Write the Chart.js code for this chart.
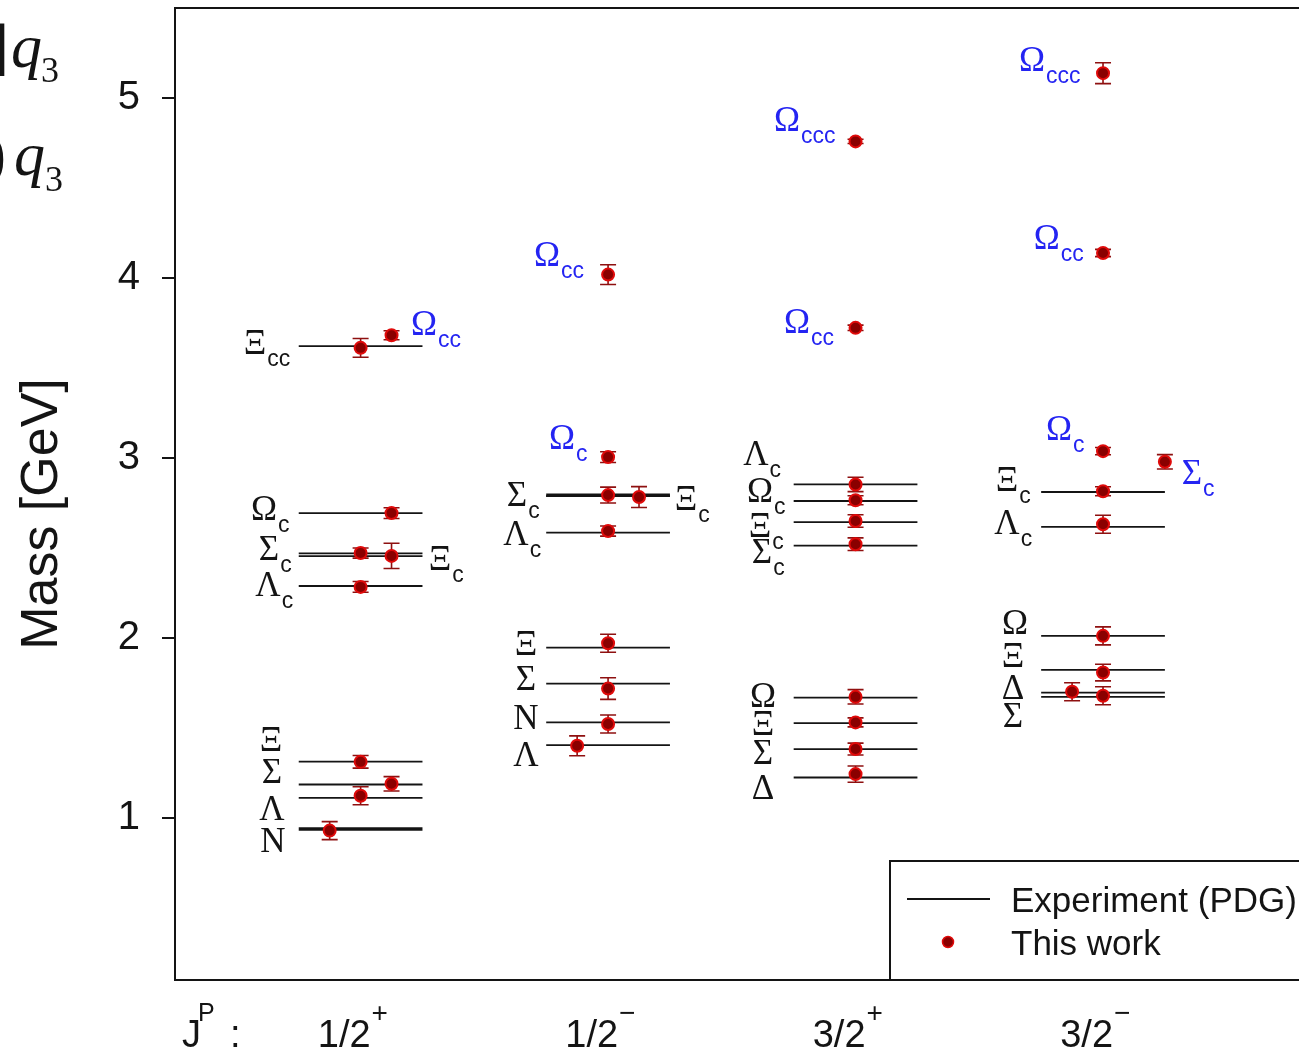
<!DOCTYPE html>
<html>
<head>
<meta charset="utf-8">
<script src="https://cdn.jsdelivr.net/npm/chart.js@4.4.0/dist/chart.umd.min.js"></script>
<style>
  html, body { margin:0; padding:0; background:#fff; overflow:hidden; }
  #wrap { position:relative; width:1299px; height:1053px; overflow:hidden; }
  canvas { display:block; }
</style>
</head>
<body>
<div id="wrap"><canvas id="massChart" width="1310" height="1053"></canvas></div>
<script>
// ---------- dados ----------
// colunas J^P
const jpPos    = [1, 2, 3, 4];
const jpFrac   = ['1/2', '1/2', '3/2', '3/2'];
const jpParity = ['+', '\u2212', '+', '\u2212'];
const yTicks   = [1, 2, 3, 4, 5];

// níveis experimentais (PDG): coluna, massa [GeV]
const pdgName = ['N','Λ','Σ','Ξ','Λc','Σc','Ξc','Ωc','Ξcc',
                 'Λ','N','Σ','Ξ','Λc','Ξc','Σc',
                 'Δ','Σ','Ξ','Ω','Σc','Ξc','Ωc','Λc',
                 'Σ','Δ','Ξ','Ω','Λc','Ξc'];
const pdgCol  = [1,1,1,1,1,1,1,1,1,
                 2,2,2,2,2,2,2,
                 3,3,3,3,3,3,3,3,
                 4,4,4,4,4,4];
const pdgMass = [0.939, 1.112, 1.186, 1.313, 2.289, 2.455, 2.470, 2.694, 3.622,
                 1.405, 1.531, 1.747, 1.947, 2.585, 2.789, 2.793,
                 1.225, 1.383, 1.527, 1.669, 2.513, 2.644, 2.761, 2.853,
                 1.673, 1.697, 1.823, 2.012, 2.617, 2.811];

// este trabalho: posição x (coluna), massa, erro
const workX    = [0.875, 1, 1, 1.125, 1, 1, 1.125, 1.125, 1, 1.125,
                  1.875, 2, 2, 2, 2, 2, 2.125, 2, 2,
                  3, 3, 3, 3, 3, 3, 3, 3, 3, 3,
                  3.875, 4, 4, 4, 4, 4, 4, 4.25, 4, 4];
const workMass = [0.930, 1.124, 1.312, 1.190, 2.284, 2.472, 2.456, 2.694, 3.612, 3.682,
                  1.401, 1.522, 1.719, 1.971, 2.594, 2.794, 2.783, 3.005, 4.019,
                  1.244, 1.383, 1.531, 1.673, 2.521, 2.650, 2.765, 2.853, 3.723, 4.759,
                  1.701, 1.679, 1.808, 2.012, 2.632, 2.815, 3.038, 2.979, 4.139, 5.138];
const workErr  = [0.050, 0.050, 0.035, 0.040, 0.030, 0.028, 0.070, 0.030, 0.052, 0.025,
                  0.055, 0.050, 0.060, 0.050, 0.028, 0.044, 0.058, 0.030, 0.055,
                  0.045, 0.033, 0.025, 0.040, 0.035, 0.035, 0.025, 0.040, 0.015, 0.012,
                  0.050, 0.050, 0.046, 0.050, 0.050, 0.025, 0.020, 0.040, 0.020, 0.058];

// rótulos: símbolo, subscrito, x, massa, só previsão (azul)
const labelSym  = ['Ξ','Ω','Ω','Σ','Λ','Ξ','Ξ','Σ','Λ','N',
                   'Ω','Ω','Σ','Λ','Ξ','Ξ','Σ','N','Λ',
                   'Ω','Ω','Λ','Ω','Ξ','Σ','Ω','Ξ','Σ','Δ',
                   'Ω','Ω','Ω','Σ','Ξ','Λ','Ω','Ξ','Δ','Σ'];
const labelSub  = ['cc','cc','c','c','c','c','','','','',
                   'cc','c','c','c','c','','','','',
                   'ccc','cc','c','c','c','c','','','','',
                   'ccc','cc','c','c','c','c','','','',''];
const labelX    = [0.573, 1.256, 0.610, 0.630, 0.626, 1.321, 0.638, 0.642, 0.642, 0.646,
                   1.753, 1.814, 1.632, 1.628, 2.315, 1.668, 1.668, 1.668, 1.668,
                   2.723, 2.763, 2.597, 2.614, 2.614, 2.622, 2.626, 2.626, 2.626, 2.626,
                   3.713, 3.773, 3.822, 4.359, 3.612, 3.612, 3.644, 3.636, 3.636, 3.636];
const labelY    = [3.643, 3.749, 2.722, 2.500, 2.300, 2.445, 1.440, 1.262, 1.057, 0.880,
                   4.131, 3.116, 2.800, 2.583, 2.777, 1.973, 1.779, 1.562, 1.357,
                   4.881, 3.760, 3.027, 2.822, 2.628, 2.483, 1.684, 1.529, 1.368, 1.174,
                   5.214, 4.226, 3.166, 2.922, 2.883, 2.644, 2.089, 1.906, 1.729, 1.573];
const labelPred = [0,1,0,0,0,0,0,0,0,0,
                   1,1,0,0,0,0,0,0,0,
                   1,1,0,0,0,0,0,0,0,0,
                   1,1,1,1,0,0,0,0,0,0];

// ---------- estilo ----------
const SANS  = '"Liberation Sans", Arial, sans-serif';
const SERIF = '"Liberation Serif", "Times New Roman", serif';
const INK   = '#141414';
const BLUE  = '#2424f2';
const DOT_FILL = '#8a0000', DOT_EDGE = '#e00a0a', BAR = '#8e1010';
const isHeavy = (i)=> (pdgCol[i]===1 && pdgName[i]==='N') || (pdgCol[i]===2 && pdgName[i]==='Σc');

const levelSets = pdgMass.map((m, i)=>({
  data: [{ x: pdgCol[i]-0.25, y: m }, { x: pdgCol[i]+0.25, y: m }],
  showLine: true,
  borderColor: INK,
  borderWidth: isHeavy(i) ? 3.5 : 1.8,
  pointRadius: 0,
  order: 2
}));

const workSet = {
  data: workX.map((x, i)=>({ x, y: workMass[i] })),
  pointRadius: 6,
  pointBackgroundColor: DOT_FILL,
  pointBorderColor: DOT_EDGE,
  pointBorderWidth: 2,
  order: 0
};
const WORK_IDX = levelSets.length;

// barras de erro, desenhadas antes dos pontos
const errorBars = {
  id: 'errorBars',
  beforeDatasetDraw(chart, args){
    if(args.index !== WORK_IDX) return;
    const { ctx, scales:{ x, y } } = chart;
    ctx.save();
    ctx.strokeStyle = BAR;
    ctx.lineWidth = 1.6;
    workX.forEach((v, i)=>{
      const px = x.getPixelForValue(v);
      const y1 = y.getPixelForValue(workMass[i] + workErr[i]);
      const y2 = y.getPixelForValue(workMass[i] - workErr[i]);
      ctx.beginPath();
      ctx.moveTo(px, y1); ctx.lineTo(px, y2);
      ctx.moveTo(px-8, y1); ctx.lineTo(px+8, y1);
      ctx.moveTo(px-8, y2); ctx.lineTo(px+8, y2);
      ctx.stroke();
    });
    ctx.restore();
  }
};

function drawLabel(ctx, sym, sub, px, py, color){
  ctx.fillStyle = color;
  ctx.font = `35px ${SERIF}`;
  ctx.textAlign = 'center';
  ctx.textBaseline = 'alphabetic';
  const w = ctx.measureText(sym).width;
  ctx.fillText(sym, px, py + 12);
  if(sub){
    ctx.font = `23px ${SANS}`;
    ctx.textAlign = 'left';
    ctx.fillText(sub, px + w/2 + 1, py + 24);
  }
}

// moldura, rótulos, eixo J^P, legenda e título
const decorations = {
  id: 'decorations',
  afterDraw(chart){
    const { ctx, chartArea:a, scales:{ x, y } } = chart;
    ctx.save();

    // moldura
    ctx.strokeStyle = INK; ctx.lineWidth = 2;
    ctx.strokeRect(a.left, a.top, a.right - a.left, a.bottom - a.top);

    // nomes dos estados
    labelSym.forEach((s, i)=>{
      drawLabel(ctx, s, labelSub[i], x.getPixelForValue(labelX[i]), y.getPixelForValue(labelY[i]),
                labelPred[i] ? BLUE : INK);
    });

    // eixo J^P
    const base = 1047;
    ctx.fillStyle = INK;
    ctx.textBaseline = 'alphabetic';
    ctx.font = `38px ${SANS}`; ctx.textAlign = 'left';
    ctx.fillText('J', 182, base);
    ctx.fillText(':', 230, base);
    ctx.font = `25px ${SANS}`;
    ctx.fillText('P', 198, 1021);
    jpPos.forEach((c, i)=>{
      const px = x.getPixelForValue(c);
      ctx.font = `38px ${SANS}`; ctx.textAlign = 'right';
      ctx.fillText(jpFrac[i], px + 10, base);
      ctx.font = `28px ${SANS}`; ctx.textAlign = 'left';
      ctx.fillText(jpParity[i], px + 11, 1022);
    });

    // título do eixo y
    ctx.save();
    ctx.translate(57, 514);
    ctx.rotate(-Math.PI/2);
    ctx.font = `52px ${SANS}`; ctx.textAlign = 'center';
    ctx.fillText('Mass [GeV]', 0, 0);
    ctx.restore();

    // legenda
    const lx = a.right - 411, ly = a.bottom - 119;
    ctx.fillStyle = '#fff';
    ctx.fillRect(lx, ly, a.right - lx, a.bottom - ly);
    ctx.strokeStyle = INK; ctx.lineWidth = 2;
    ctx.strokeRect(lx, ly, a.right - lx + 10, a.bottom - ly);
    ctx.lineWidth = 2;
    ctx.beginPath(); ctx.moveTo(lx + 17, ly + 38); ctx.lineTo(lx + 100, ly + 38); ctx.stroke();
    ctx.beginPath(); ctx.arc(lx + 58, ly + 81, 5.5, 0, Math.PI*2);
    ctx.fillStyle = DOT_FILL; ctx.fill();
    ctx.strokeStyle = DOT_EDGE; ctx.lineWidth = 1.5; ctx.stroke();
    ctx.fillStyle = INK;
    ctx.font = `35px ${SANS}`; ctx.textAlign = 'left';
    ctx.fillText('Experiment (PDG)', lx + 121, ly + 51);
    ctx.fillText('This work', lx + 121, ly + 94);

    // fragmentos de texto à esquerda (recorte da figura original)
    ctx.font = `64px ${SERIF}`; ctx.textAlign = 'right';
    ctx.fillText(']', 9, 67);
    ctx.fillText(')', 6, 175);
    ctx.font = `italic 62px ${SERIF}`; ctx.textAlign = 'left';
    ctx.fillText('q', 11, 67);
    ctx.fillText('q', 14, 175);
    ctx.font = `36px ${SERIF}`;
    ctx.fillText('3', 41, 82);
    ctx.fillText('3', 45, 191);

    ctx.restore();
  }
};

new Chart(document.getElementById('massChart'), {
  type: 'scatter',
  data: { datasets: [...levelSets, workSet] },
  options: {
    responsive: false,
    animation: false,
    layout: { padding: { top: 7, right: 9, left: 0, bottom: 0 } },
    plugins: { legend: { display:false }, tooltip: { enabled:false } },
    scales: {
      x: {
        type: 'linear', min: 0.25, max: 4.8,
        ticks: { display:false },
        grid: { display:false },
        border: { display:false },
        afterFit(s){ s.height = 73; s.paddingLeft = 0; s.paddingRight = 0; }
      },
      y: {
        type: 'linear', min: 0.1, max: 5.5,
        afterBuildTicks(s){ s.ticks = yTicks.map(v=>({ value:v })); },
        ticks: { color: INK, font: { family: SANS, size: 40 }, padding: 22 },
        grid: { drawOnChartArea:false, drawTicks:true, tickLength:13, color: INK, lineWidth: 2 },
        border: { display:false },
        afterFit(s){ s.width = 175; s.paddingTop = 0; s.paddingBottom = 0; }
      }
    }
  },
  plugins: [errorBars, decorations]
});
</script>
</body>
</html>
